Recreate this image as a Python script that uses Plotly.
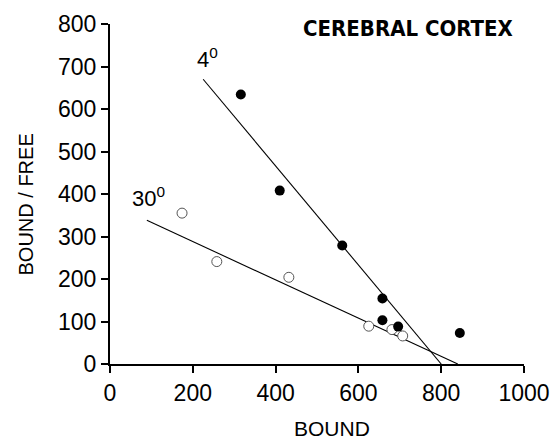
import plotly.graph_objects as go

# Data (Scatchard plot, cerebral cortex)
filled_bound = [316, 410, 561, 658, 658, 696, 845]
filled_ratio = [634, 408, 279, 154, 103, 88, 73]
open_bound = [174, 258, 432, 625, 681, 707]
open_ratio = [355, 241, 204, 89, 81, 66]
line4_bound = [225, 800]
line4_ratio = [670, 0]
line30_bound = [89, 840]
line30_ratio = [338, 0]
x_ticks = [0, 200, 400, 600, 800, 1000]
y_ticks = [0, 100, 200, 300, 400, 500, 600, 700, 800]

FONT = "Liberation Sans Narrow, DejaVu Sans Condensed, Liberation Sans, Arial"
BASE = "Liberation Sans, Arial"

fig = go.Figure()
fig.add_trace(go.Scatter(x=line4_bound, y=line4_ratio, mode="lines",
                         line=dict(color="black", width=1.1), showlegend=False))
fig.add_trace(go.Scatter(x=line30_bound, y=line30_ratio, mode="lines",
                         line=dict(color="black", width=1.1), showlegend=False))
fig.add_trace(go.Scatter(x=open_bound, y=open_ratio, mode="markers",
                         marker=dict(symbol="circle", size=10, color="white",
                                     line=dict(color="#555", width=1)),
                         showlegend=False))
fig.add_trace(go.Scatter(x=filled_bound, y=filled_ratio, mode="markers",
                         marker=dict(symbol="circle", size=10, color="black",
                                     line=dict(width=0)),
                         showlegend=False))

axis_common = dict(showgrid=False, zeroline=False, showline=True, linecolor="black",
                   linewidth=2, ticks="outside", ticklen=7, tickwidth=2, tickcolor="black",
                   automargin=False,
                   tickfont=dict(family=BASE, size=23, color="black"))

fig.update_xaxes(range=[0, 1000], tickvals=x_ticks, ticktext=[str(v) for v in x_ticks],
                 **axis_common)
fig.update_yaxes(range=[0, 800], tickvals=y_ticks, ticktext=[str(v) for v in y_ticks],
                 **axis_common)

W, H = 552, 439
L, R, T, B = 110, 28, 24, 75
pw, ph = W - L - R, H - T - B

# axis titles (positioned in paper coordinates derived from pixel positions)
fig.add_annotation(x=(332 - L) / pw, y=(H - B - 428) / ph, xref="paper", yref="paper",
                   text="BOUND", showarrow=False, xanchor="center", yanchor="middle",
                   font=dict(family=BASE, size=21, color="black"))
fig.add_annotation(x=(25.5 - L) / pw, y=(H - B - 205) / ph, xref="paper", yref="paper",
                   text="BOUND / FREE", showarrow=False, textangle=-90,
                   xanchor="center", yanchor="middle",
                   font=dict(family=BASE, size=20, color="black"))

fig.add_annotation(x=1.0, y=1.0, xref="paper", yref="paper", xanchor="right", yanchor="bottom",
                   text="<b>CEREBRAL CORTEX</b>", showarrow=False, xshift=-9, yshift=-19,
                   font=dict(family=FONT, size=22, color="black"))
fig.add_annotation(x=235, y=720, text="4<sup>0</sup>", showarrow=False,
                   font=dict(family=BASE, size=22, color="black"))
fig.add_annotation(x=92, y=393, text="30<sup>0</sup>", showarrow=False,
                   font=dict(family=BASE, size=22, color="black"))

fig.update_layout(width=W, height=H, margin=dict(l=L, r=R, t=T, b=B),
                  plot_bgcolor="white", paper_bgcolor="white")

fig.write_html("out.html")
